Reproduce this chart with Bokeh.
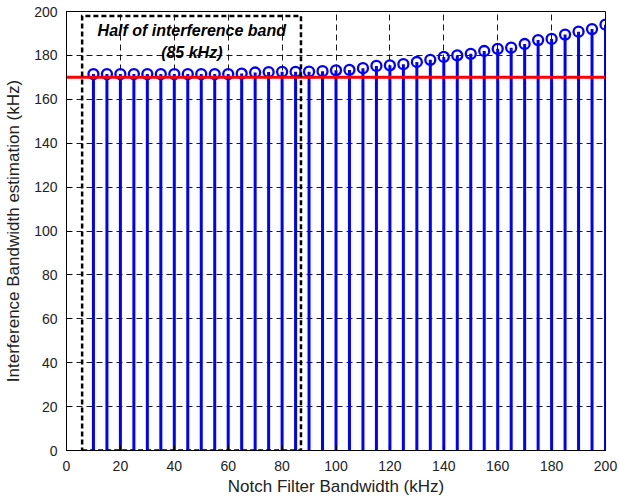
from bokeh.plotting import figure
from bokeh.models import FixedTicker, Range1d
from bokeh.core.properties import value
from bokeh.embed import file_html
from bokeh.resources import INLINE

# ---- data ----
notch_bw = [10, 15, 20, 25, 30, 35, 40, 45, 50, 55, 60, 65, 70, 75, 80, 85, 90, 95,
            100, 105, 110, 115, 120, 125, 130, 135, 140, 145, 150, 155, 160, 165,
            170, 175, 180, 185, 190, 195, 200]
est_bw = [171.5, 171.5, 171.5, 171.5, 171.5, 171.5, 171.5, 171.5, 171.5, 171.5,
          171.5, 171.7, 172.2, 172.4, 172.5, 172.5, 172.6, 172.8,
          173.2, 173.4, 174.2, 175.2, 175.5, 176.0, 177.0, 178.0, 179.3, 180.0,
          180.7, 182.0, 183.0, 183.5, 185.2, 187.0, 187.5, 189.5, 190.8, 192.0, 194.0]
interference_bw = 170
half_band_label = ["Half of interference band", "(85 kHz)"]
x_ticks = [0, 20, 40, 60, 80, 100, 120, 140, 160, 180, 200]
y_ticks = [0, 20, 40, 60, 80, 100, 120, 140, 160, 180, 200]

FONT = "Liberation Sans"

p = figure(width=620, height=499, x_range=Range1d(0, 200), y_range=Range1d(0, 200),
           output_backend="svg", toolbar_location=None,
           min_border_left=66, min_border_right=15, min_border_top=11, min_border_bottom=49)
p.background_fill_color = "white"
p.border_fill_color = "white"
p.outline_line_color = "black"
p.outline_line_width = 1
p.outline_line_alpha = 1

# stems
p.segment(x0=notch_bw, y0=[0] * len(notch_bw), x1=notch_bw, y1=est_bw,
          line_color="#0000FF", line_width=3)
p.scatter(notch_bw, est_bw, marker="circle", size=10, line_color="#0000FF",
          line_width=2.3, fill_color=None)

# red threshold line
p.line([x_ticks[0], x_ticks[-1]], [interference_bw, interference_bw],
       line_color="#FF0000", line_width=3)

# dashed box (half of interference band)
bx0, bx1, by0, by1 = 5.8, 87, 0, 198
p.line([bx0, bx1, bx1, bx0, bx0], [by0, by0, by1, by1, by0], line_color="black",
       line_width=2.5, line_dash="5 3", line_join="miter")

p.text(x=[46.5, 46.5], y=[191.3, 181.3], text=half_band_label,
       text_font=value(FONT), text_font_style="bold italic", text_font_size="16px",
       text_align="center", text_baseline="middle", text_color="black")

# axes
for ax in (p.xaxis[0], p.yaxis[0]):
    ax.major_tick_in = 5
    ax.major_tick_out = 0
    ax.minor_tick_line_color = None
    ax.axis_line_color = "black"
    ax.major_tick_line_color = "black"
    ax.major_label_text_font = FONT
    ax.major_label_text_font_size = "14px"
    ax.major_label_text_color = "#222222"
    ax.axis_label_text_font = FONT
    ax.axis_label_text_font_size = "17px"
    ax.axis_label_text_font_style = "normal"
    ax.axis_label_text_color = "#222222"

p.xaxis.ticker = FixedTicker(ticks=x_ticks)
p.yaxis.ticker = FixedTicker(ticks=y_ticks)
p.xaxis.axis_label = "Notch Filter Bandwidth (kHz)"
p.yaxis.axis_label = "Interference Bandwidth estimation (kHz)"
p.xaxis.major_label_standoff = 10
p.yaxis.major_label_standoff = 9
p.xaxis.axis_label_standoff = 3
p.yaxis.axis_label_standoff = 8

# grid
for g in (p.xgrid[0], p.ygrid[0]):
    g.grid_line_color = "black"
    g.grid_line_dash = "6 4"
    g.grid_line_width = 1
    g.grid_line_alpha = 0.9
p.xgrid.ticker = FixedTicker(ticks=x_ticks)
p.ygrid.ticker = FixedTicker(ticks=y_ticks)

open("out.html", "w").write(file_html(p, INLINE))
